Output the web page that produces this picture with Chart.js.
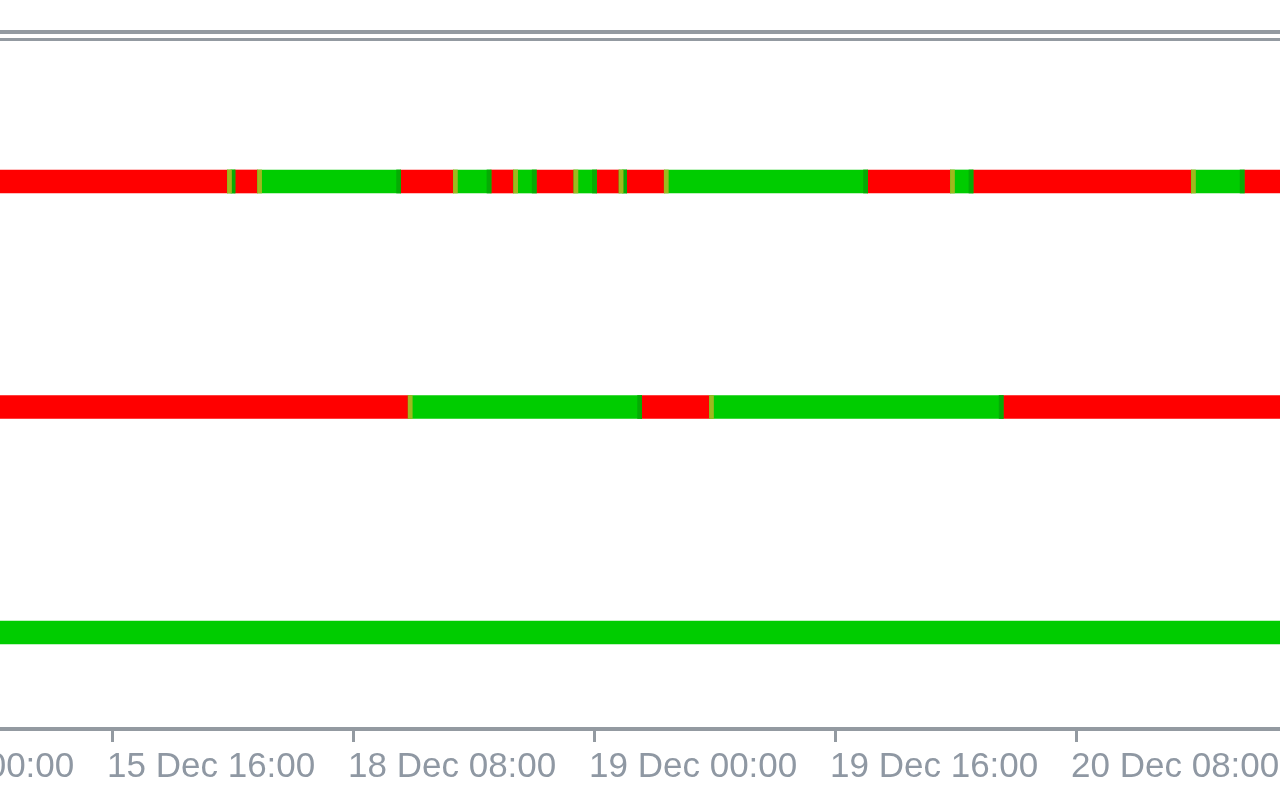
<!DOCTYPE html>
<html>
<head>
<meta charset="utf-8">
<title>Trend strips</title>
<script src="https://cdn.jsdelivr.net/npm/chart.js@4/dist/chart.umd.min.js"></script>
<style>
  html, body { margin: 0; padding: 0; background: #fff; overflow: hidden; }
  body { width: 1280px; height: 800px; position: relative; }
  #frame {
    position: absolute; left: 0; top: 30px; width: 1280px; height: 4px;
    border-top: 4px solid #939aa1; border-bottom: 3px solid #939aa1;
  }
  #wrap { position: absolute; left: -241px; top: 0; width: 1521px; height: 800px; }
</style>
</head>
<body>
<div id="frame"></div>
<div id="wrap"><canvas id="trendCanvas"></canvas></div>
<script>
// x unit: trading hours counted from 15 Dec 00:00 (weekend removed, like the terminal does)
var tickValues = [0, 16, 32, 48, 64, 80];
var tickLabels = ['15 Dec 00:00', '15 Dec 16:00', '18 Dec 08:00', '19 Dec 00:00', '19 Dec 16:00', '20 Dec 08:00'];

// three strips, top to bottom; each one flips colour at the listed times
var rowLevels = [3, 2, 1];
var rowStart = ['down', 'down', 'up'];
var topFlips = [23.66, 24.16, 25.66, 35.16, 38.66, 41.16, 42.66, 44.16, 46.66, 48.16,
                49.66, 50.16, 52.66, 66.16, 71.66, 73.16, 87.66, 91.16];
var midFlips = [35.66, 51.16, 55.66, 75.16];
var lowFlips = [];

var xMin = -7.44, xMax = 93.54;
var edgeBar = 0.27; // one bar at the ends of an up run is drawn in another shade

var flips = [topFlips, midFlips, lowFlips];
var down = [], up = [], upFirst = [], upLast = [];
rowLevels.forEach(function (level, r) {
  var edges = [xMin].concat(flips[r], [xMax]);
  var state = rowStart[r];
  for (var i = 0; i < edges.length - 1; i++) {
    var a = edges[i], b = edges[i + 1];
    if (state === 'up') {
      up.push({x: [a, b], y: level});
      if (i > 0) upFirst.push({x: [a, a + edgeBar], y: level});
      if (i < edges.length - 2) upLast.push({x: [b - edgeBar, b], y: level});
    } else {
      down.push({x: [a, b], y: level});
    }
    state = state === 'up' ? 'down' : 'up';
  }
});

function strip(label, data, color, order) {
  return {
    label: label, data: data, backgroundColor: color, order: order,
    barThickness: 23, grouped: false, borderWidth: 0, borderSkipped: false
  };
}

var gray = '#939aa1';
new Chart(document.getElementById('trendCanvas').getContext('2d'), {
  type: 'bar',
  data: {
    datasets: [
      strip('Up start', upFirst, '#9fb81e', 0),
      strip('Up end', upLast, '#05ab05', 0),
      strip('Up', up, '#00cc00', 1),
      strip('Down', down, '#ff0000', 1)
    ]
  },
  options: {
    indexAxis: 'y',
    responsive: true,
    maintainAspectRatio: false,
    animation: false,
    layout: { padding: { top: 41, left: 0, right: 0, bottom: 0 } },
    plugins: { legend: { display: false }, tooltip: { enabled: false } },
    scales: {
      x: {
        type: 'linear',
        position: 'bottom',
        min: xMin,
        max: xMax,
        afterBuildTicks: function (scale) {
          scale.ticks = tickValues.map(function (v) { return {value: v}; });
        },
        afterFit: function (scale) {
          scale.height = 71;
          scale.paddingLeft = 0;
          scale.paddingRight = 0;
        },
        grid: { drawOnChartArea: false, drawTicks: true, tickLength: 13, tickWidth: 3, tickColor: gray },
        border: { display: true, color: gray, width: 4 },
        ticks: {
          autoSkip: false,
          maxRotation: 0,
          align: 'start',
          labelOffset: -5,
          padding: 4,
          color: '#8f98a3',
          font: { family: 'Liberation Sans', size: 35 },
          callback: function (value) {
            var i = tickValues.indexOf(value);
            return i < 0 ? '' : tickLabels[i];
          }
        }
      },
      y: { type: 'linear', display: false, offset: false, min: 0.572, max: 3.623 }
    }
  }
});
</script>
</body>
</html>
